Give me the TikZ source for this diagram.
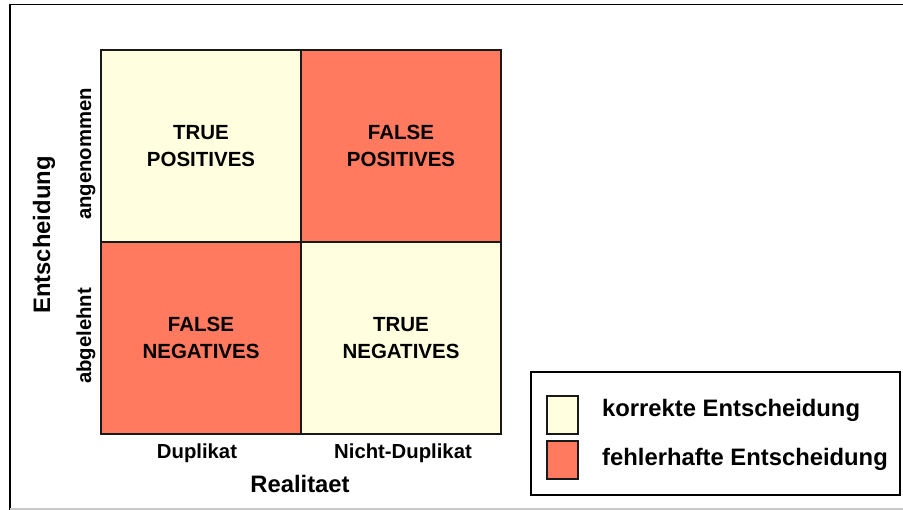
\documentclass[tikz,border=0pt]{standalone}
\usepackage{fontspec}
\setmainfont{Liberation Sans}
\begin{document}
\begin{tikzpicture}[x=1pt,y=-1pt,
  cellbox/.style={draw=black!90, line width=2pt, minimum width=200pt, minimum height=192pt,
    inner sep=0pt, align=center, font=\bfseries\fontsize{20.5}{27}\selectfont},
  swatch/.style={draw=black!90, line width=1.5pt, minimum width=31pt, minimum height=38pt, inner sep=0pt},
  axislabel/.style={inner sep=0pt, font=\bfseries\fontsize{20.3}{24}\selectfont},
  titlelabel/.style={inner sep=0pt, font=\bfseries\fontsize{23.8}{28}\selectfont},
  legendtext/.style={inner sep=0pt, anchor=base west, font=\bfseries\fontsize{23.8}{28}\selectfont}]
\definecolor{cream}{RGB}{255,255,224}
\definecolor{salmon}{RGB}{255,122,95}
\definecolor{framegray}{RGB}{200,200,200}
\useasboundingbox (0,0) rectangle (903,510);
% outer frame
\draw[line width=1.5pt] (10,510) -- (10,4.5) -- (903,4.5);
\draw[framegray, line width=1.5pt] (10,509) -- (903,509);
% confusion matrix cells
\node[cellbox, fill=cream]  (tp) at (201,146) {TRUE\\POSITIVES};
\node[cellbox, fill=salmon] (fp) at (401,146) {FALSE\\POSITIVES};
\node[cellbox, fill=salmon] (fn) at (201,338) {FALSE\\NEGATIVES};
\node[cellbox, fill=cream]  (tn) at (401,338) {TRUE\\NEGATIVES};
% axis labels
\node[axislabel, anchor=base] (dup) at (197,459) {Duplikat};
\node[axislabel, anchor=base] (ndup) at (403,459) {Nicht-Duplikat};
\node[titlelabel, anchor=base] (real) at (300,493) {Realitaet};
\node[axislabel, anchor=base, rotate=90] (ang) at (91,154) {angenommen};
\node[axislabel, anchor=base, rotate=90] (abg) at (91,336) {abgelehnt};
\node[titlelabel, anchor=base, rotate=90] (ent) at (50,235) {Entscheidung};
% legend
\node[draw, line width=1.5pt, minimum width=369pt, minimum height=123pt, inner sep=0pt] (legend) at (715.5,433.5) {};
\node[swatch, fill=cream]  (s1) at (562.5,415) {};
\node[swatch, fill=salmon] (s2) at (562.5,460) {};
\node[legendtext] (l1) at (602,417) {korrekte Entscheidung};
\node[legendtext] (l2) at (602,466) {fehlerhafte Entscheidung};
\end{tikzpicture}
\end{document}
